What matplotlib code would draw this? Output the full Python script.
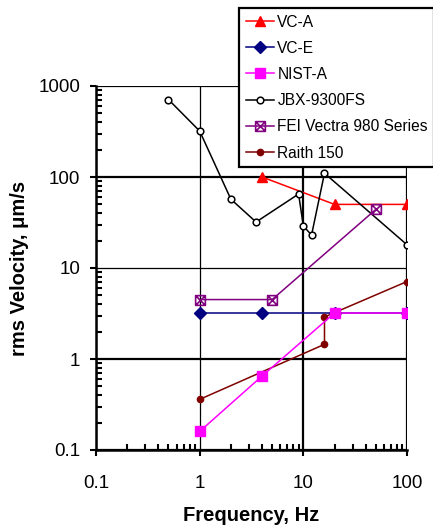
import matplotlib
matplotlib.use("Agg")
import matplotlib.pyplot as plt
from matplotlib.path import Path
from matplotlib.ticker import LogLocator, NullFormatter, FixedLocator

plt.rcParams['font.family'] = ['Liberation Sans', 'DejaVu Sans']

# ---- data ----
vca_f = [4, 20, 100]
vca_v = [100, 50, 50]

vce_f = [1, 4, 20, 100]
vce_v = [3.2, 3.2, 3.2, 3.2]

nist_f = [1, 4, 20, 100]
nist_v = [0.16, 0.65, 3.2, 3.2]

jbx_f = [0.5, 1, 2, 3.5, 9, 10, 12, 16, 100]
jbx_v = [710, 320, 57, 32, 65, 29, 23, 110, 18]

fei_f = [1, 5, 50]
fei_v = [4.5, 4.5, 44]

raith_f = [1, 16, 16, 100]
raith_v = [0.36, 1.45, 2.9, 7.1]

labels = ["VC-A", "VC-E", "NIST-A", "JBX-9300FS", "FEI Vectra 980 Series", "Raith 150"]
x_ticks = [0.1, 1, 10, 100]
x_ticklabels = ["0.1", "1", "10", "100"]
y_ticks = [0.1, 1, 10, 100, 1000]
y_ticklabels = ["0.1", "1", "10", "100", "1000"]

# custom square-with-X marker
verts = [(-1, -1), (1, -1), (1, 1), (-1, 1), (-1, -1),
         (-1, -1), (1, 1), (-1, 1), (1, -1)]
codes = [Path.MOVETO, Path.LINETO, Path.LINETO, Path.LINETO, Path.CLOSEPOLY,
         Path.MOVETO, Path.LINETO, Path.MOVETO, Path.LINETO]
sqx = Path(verts, codes)

fig = plt.figure(figsize=(4.33, 5.29), dpi=100)
ax = fig.add_axes([96/433, 1-450/529, (407-96)/433, (450-86)/529])

lw = 1.1
h1, = ax.plot(vca_f, vca_v, color='#FF0000', lw=lw, marker='^', ms=7.5, mec='#FF0000', mfc='#FF0000', zorder=5)
h2, = ax.plot(vce_f, vce_v, color='#000080', lw=lw, marker='D', ms=6.5, mec='#000080', mfc='#000080', zorder=4)
h3, = ax.plot(nist_f, nist_v, color='#FF00FF', lw=lw, marker='s', ms=7, mec='#FF00FF', mfc='#FF00FF', zorder=6)
h4, = ax.plot(jbx_f, jbx_v, color='black', lw=lw, marker='o', ms=4.8, mec='black', mfc='white', mew=1.1, zorder=5)
h5, = ax.plot(fei_f, fei_v, color='#800080', lw=lw, marker=sqx, ms=7, mec='#800080', mfc='none', mew=1.2, zorder=5)
h6, = ax.plot(raith_f, raith_v, color='#800000', lw=lw, marker='o', ms=4.5, mec='#800000', mfc='#800000', zorder=5)

ax.set_xscale('log')
ax.set_yscale('log')
ax.set_xlim(0.1, 100)
ax.set_ylim(0.1, 1000)

ax.xaxis.set_major_locator(FixedLocator(x_ticks))
ax.yaxis.set_major_locator(FixedLocator(y_ticks))
ax.set_xticklabels(x_ticklabels)
ax.set_yticklabels(y_ticklabels)
ax.xaxis.set_minor_locator(LogLocator(base=10, subs=range(2, 10)))
ax.yaxis.set_minor_locator(LogLocator(base=10, subs=range(2, 10)))
ax.xaxis.set_minor_formatter(NullFormatter())
ax.yaxis.set_minor_formatter(NullFormatter())

ax.tick_params(axis='both', which='major', direction='out', length=4.3, width=1.5,
               labelsize=13.5)
ax.tick_params(axis='x', which='major', pad=14)
ax.tick_params(axis='y', which='major', pad=7)
ax.tick_params(axis='both', which='minor', direction='in', length=4.3, width=1.5)

for s in ['top', 'right']:
    ax.spines[s].set_visible(False)
for s in ['left', 'bottom']:
    ax.spines[s].set_linewidth(1.8)

ax.grid(True, which='major', color='black', lw=1.5)
ax.set_axisbelow(True)
# Excel-like uneven gridline weights
for line, v in zip(ax.get_xgridlines(), x_ticks):
    line.set_linewidth(0.9 if v == 1 else 1.6)
for line, v in zip(ax.get_ygridlines(), y_ticks):
    line.set_linewidth(0.9 if v == 10 else 1.6)

ax.set_xlabel("Frequency, Hz", fontsize=14.5, fontweight='bold', labelpad=10)
ax.set_ylabel("rms Velocity, μm/s", fontsize=14.5, fontweight='bold', labelpad=7)

leg = fig.legend([h1, h2, h3, h4, h5, h6], labels,
                 loc='upper left', bbox_to_anchor=(239/433, 1-8/529),
                 bbox_transform=fig.transFigure,
                 fontsize=11.2, frameon=True, fancybox=False, framealpha=1,
                 edgecolor='black', handlelength=1.85, handletextpad=0.2,
                 borderpad=0.42, labelspacing=0.72, borderaxespad=0)
leg.get_frame().set_linewidth(1.6)

fig.savefig("out.png", dpi=100)
